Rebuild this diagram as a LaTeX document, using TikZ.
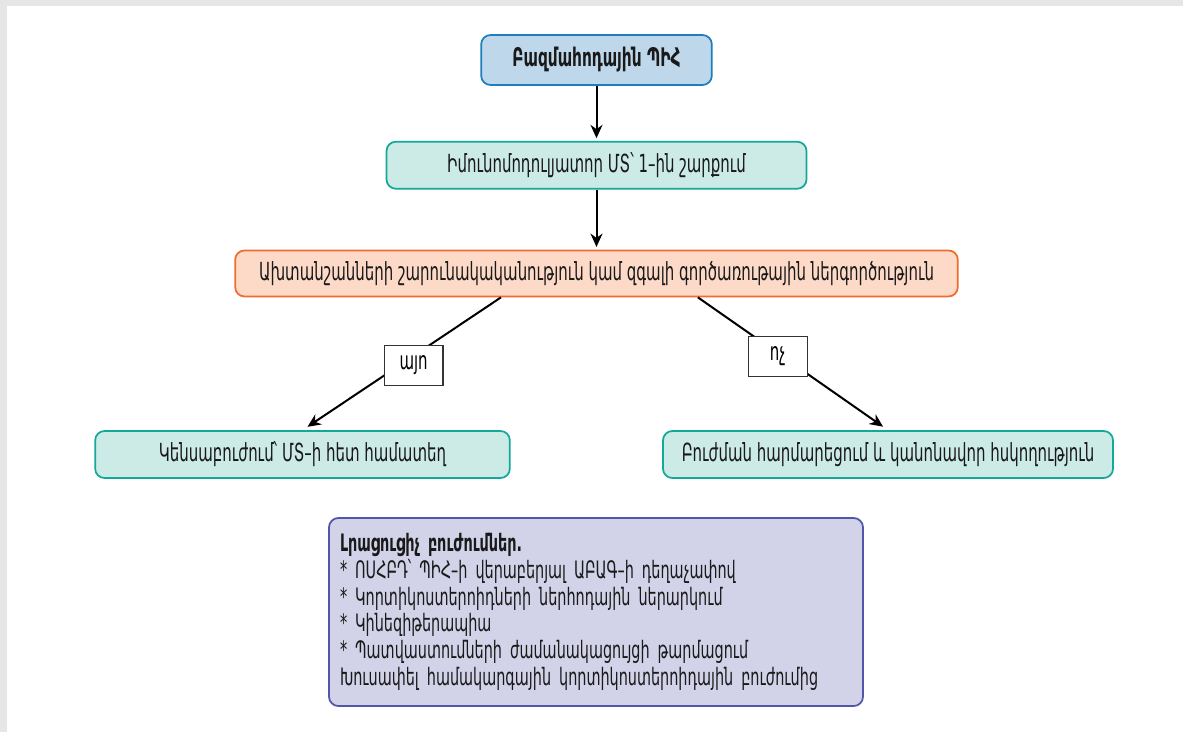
\documentclass[tikz,border=0pt]{standalone}
\usepackage{fontspec}
\setmainfont{DejaVu Sans}[FakeStretch=0.6]
\usepackage{tikz}
\usetikzlibrary{arrows.meta, positioning}
\definecolor{pihfill}{RGB}{190,215,234}
\definecolor{pihdraw}{RGB}{30,125,190}
\definecolor{tealfill}{RGB}{204,234,230}
\definecolor{tealdraw}{RGB}{20,168,155}
\definecolor{peachfill}{RGB}{253,218,200}
\definecolor{peachdraw}{RGB}{242,106,45}
\definecolor{lavfill}{RGB}{210,210,233}
\definecolor{lavdraw}{RGB}{82,86,166}
\definecolor{framegray}{RGB}{230,230,230}
\tikzset{
  box/.style={rectangle, rounded corners=7pt, line width=1.3pt,
    align=center, inner sep=0pt, text=black!90,
    font=\fontsize{18.7}{21}\selectfont},
  pihbox/.style={box, draw=pihdraw, fill=pihfill,
    minimum width=173pt, minimum height=37.5pt,
    font=\fontsize{19.2}{21}\selectfont\bfseries},
  tealbox/.style={box, draw=tealdraw, fill=tealfill, minimum height=35.25pt},
  peachbox/.style={box, draw=peachdraw, fill=peachfill,
    minimum width=542pt, minimum height=34.5pt},
  lavbox/.style={box, draw=lavdraw, fill=lavfill,
    minimum width=400.5pt, minimum height=141pt,
    font=\fontsize{18}{20}\selectfont},
  lbl/.style={rectangle, draw=black!80, fill=white, line width=0.8pt,
    minimum width=44pt, minimum height=30pt, inner sep=0pt,
    font=\fontsize{18.7}{21}\selectfont},
  arrow/.style={-{Stealth[length=10pt, width=9pt]}, line width=1.5pt, color=black}
}
\begin{document}
\begin{tikzpicture}[x=0.75pt, y=-0.75pt]
  % frame
  \useasboundingbox (0,0) rectangle (1183,732);
  \fill[framegray] (0,0) rectangle (1183,732);
  \fill[white] (7,6) rectangle (1183,732);

  % Main chain
  \node[pihbox] (pih) at (596.5,60) {Բազմահոդային ՊԻՀ};
  \node[tealbox, minimum width=315pt, below=41.25pt of pih] (immuno) {Իմունոմոդուլյատոր ՄՏ՝ 1–ին շարքում};
  \node[peachbox, below=45pt of immuno] (symp) {Ախտանշանների շարունակականություն կամ զգալի գործառութային ներգործություն};

  % Outcomes
  \node[tealbox, minimum width=311pt] (bio) at (302.5,454.5) {Կենսաբուժում՝ ՄՏ–ի հետ համատեղ};
  \node[tealbox, minimum width=337.5pt] (adjust) at (888,454.5) {Բուժման հարմարեցում և կանոնավոր հսկողություն};

  % Extra treatments
  \node[lavbox, text width=384pt, align=left] (extra) at (596,612) {{\bfseries Լրացուցիչ բուժումներ.}\\
    {*} ՈՍՀԲԴ՝ ՊԻՀ–ի վերաբերյալ ԱԲԱԳ–ի դեղաչափով\\
    {*} Կորտիկոստերոիդների ներհոդային ներարկում\\
    {*} Կինեզիթերապիա\\
    {*} Պատվաստումների ժամանակացույցի թարմացում\\
    Խուսափել համակարգային կորտիկոստերոիդային բուժումից};

  % Connections
  \draw[arrow, shorten >=2pt] (pih) -- (immuno);
  \draw[arrow, shorten >=2pt] (immuno) -- (symp);
  \draw[arrow, shorten >=4.5pt] ([xshift=-71.6pt]symp.south) -- (bio.north)
    node[lbl, pos=0.44, yshift=-7pt] (yes) {այո};
  \draw[arrow, shorten >=4.5pt] ([xshift=76pt]symp.south) -- (adjust.north)
    node[lbl, pos=0.42, yshift=-2.6pt] (no) {ոչ};
\end{tikzpicture}
\end{document}
